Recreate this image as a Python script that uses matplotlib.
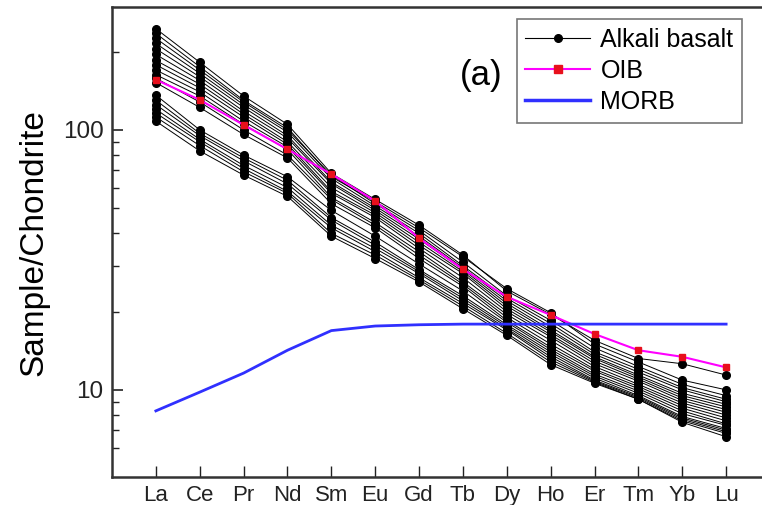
import matplotlib
matplotlib.use("Agg")
import matplotlib.pyplot as plt
from matplotlib.ticker import FixedLocator, NullFormatter, FixedFormatter
from matplotlib.lines import Line2D

plt.rcParams['font.family'] = ['Liberation Sans', 'DejaVu Sans']

elements = ["La", "Ce", "Pr", "Nd", "Sm", "Eu", "Gd", "Tb", "Dy", "Ho", "Er", "Tm", "Yb", "Lu"]

alkali_basalt = [
    [245, 182, 135, 105, 68, 54, 43, 33, 24, 19.5, 15.5, 13.2, 12.6, 11.4],
    [235, 175, 130, 102, 66, 53, 42, 32.5, 24.5, 19.8, 15.0, 12.8, 10.9, 10.0],
    [225, 170, 128, 100, 67, 52, 41, 31, 23, 18.5, 14.5, 12.3, 10.5, 9.5],
    [215, 165, 125, 98, 65, 51, 40, 30, 22.5, 18, 14, 12, 10.2, 9.2],
    [205, 160, 122, 95, 63, 50, 39, 29.5, 22, 17.5, 13.7, 11.7, 10.0, 9.0],
    [195, 155, 118, 93, 62, 49, 38, 29, 21.5, 17, 13.4, 11.4, 9.7, 8.8],
    [185, 150, 115, 90, 60, 48, 37, 28.5, 21, 16.7, 13.2, 11.2, 9.5, 8.6],
    [178, 145, 112, 88, 58, 47, 36, 28, 20.5, 16.3, 12.9, 11.0, 9.3, 8.4],
    [170, 140, 108, 86, 57, 46, 35, 27, 20, 16, 12.6, 10.8, 9.1, 8.2],
    [163, 135, 105, 84, 55, 44, 34, 26, 19.5, 15.5, 12.3, 10.5, 8.9, 8.0],
    [158, 128, 100, 80, 54, 43, 33, 25.5, 19, 15, 12.0, 10.3, 8.7, 7.8],
    [152, 122, 96, 78, 52, 42, 32, 25, 18.5, 14.6, 11.8, 10.1, 8.5, 7.6],
    [136, 100, 80, 66, 49, 39, 30.5, 24, 18.2, 14.3, 11.5, 9.9, 8.3, 7.4],
    [130, 97, 78, 64, 46, 37, 29, 23, 17.8, 14, 11.3, 9.7, 8.1, 7.3],
    [125, 95, 76, 62, 45, 36, 28.5, 22.5, 17.5, 13.7, 11.1, 9.5, 7.9, 7.1],
    [120, 92, 73, 60, 43, 35, 28, 22, 17.2, 13.4, 10.9, 9.4, 7.8, 7.0],
    [116, 90, 71, 58, 42, 34, 27, 21.5, 17.0, 13.1, 10.8, 9.3, 7.7, 6.9],
    [112, 87, 69, 57, 40, 33, 26.5, 21, 16.5, 12.8, 10.7, 9.2, 7.6, 6.8],
    [108, 83, 67, 55.5, 39, 32, 26, 20.5, 16.2, 12.5, 10.6, 9.2, 7.5, 6.6],
]

oib = [156, 130.5, 104.5, 84.2, 67.6, 53.3, 38.3, 29.1, 22.8, 19.4, 16.4, 14.2, 13.4, 12.2]
morb = [8.3, 9.8, 11.6, 14.2, 16.9, 17.6, 17.8, 17.9, 17.9, 17.9, 17.9, 17.9, 17.9, 17.9]

fig = plt.figure(figsize=(7.62, 5.05), dpi=100)
ax = fig.add_axes([0.147, 0.0554, 0.875, 0.93])

x = list(range(len(elements)))
for s in alkali_basalt:
    ax.plot(x, s, color='black', lw=0.7, marker='o', ms=5.5, mfc='black', mec='black', zorder=3)
ax.plot(x, oib, color='#ff00ff', lw=1.5, marker='s', ms=5, mfc='#e8101c', mec='#e8101c', zorder=4)
ax.plot(x, morb, color='#3030ff', lw=2, zorder=5)

ax.set_yscale('log')
ax.set_ylim(4.62, 296)
ax.set_xlim(-1, len(elements) + 0.2)

ax.set_xticks(x)
ax.set_xticklabels(elements, fontsize=16)
ax.yaxis.set_major_locator(FixedLocator([10, 100]))
ax.yaxis.set_major_formatter(FixedFormatter(['10', '100']))
ax.yaxis.set_minor_locator(FixedLocator([6, 7, 8, 9, 20, 30, 40, 50, 60, 70, 80, 90, 200]))
ax.yaxis.set_minor_formatter(NullFormatter())
ax.tick_params(axis='y', which='major', direction='in', length=8, width=1.2, labelsize=17.5, pad=6, colors='#222222')
ax.tick_params(axis='y', which='minor', direction='in', length=5, width=1.0, colors='#222222')
ax.tick_params(axis='x', which='major', direction='in', length=8, width=1.0, pad=6, colors='#222222')
for sp in ax.spines.values():
    sp.set_linewidth(1.8)
    sp.set_color('#333333')
ax.set_ylabel('Sample/Chondrite', fontsize=24, labelpad=10)

ax.text(0.522, 0.856, '(a)', transform=ax.transAxes, fontsize=25, ha='left', va='center')

handles = [
    Line2D([], [], color='black', lw=0.8, marker='o', ms=5.5, mfc='black'),
    Line2D([], [], color='#ff00ff', lw=1.5, marker='s', ms=6, mfc='#e8101c', mec='#e8101c'),
    Line2D([], [], color='#3030ff', lw=2.5),
]
leg = ax.legend(handles, ['Alkali basalt', 'OIB', 'MORB'], loc='upper left',
                bbox_to_anchor=(0.607, 0.975), fontsize=18, frameon=True, fancybox=False,
                edgecolor='#555555', handlelength=2.6, handletextpad=0.4, labelspacing=0.28,
                borderpad=0.35, borderaxespad=0)
leg.get_frame().set_linewidth(1.2)

fig.savefig('out.png', dpi=100)
